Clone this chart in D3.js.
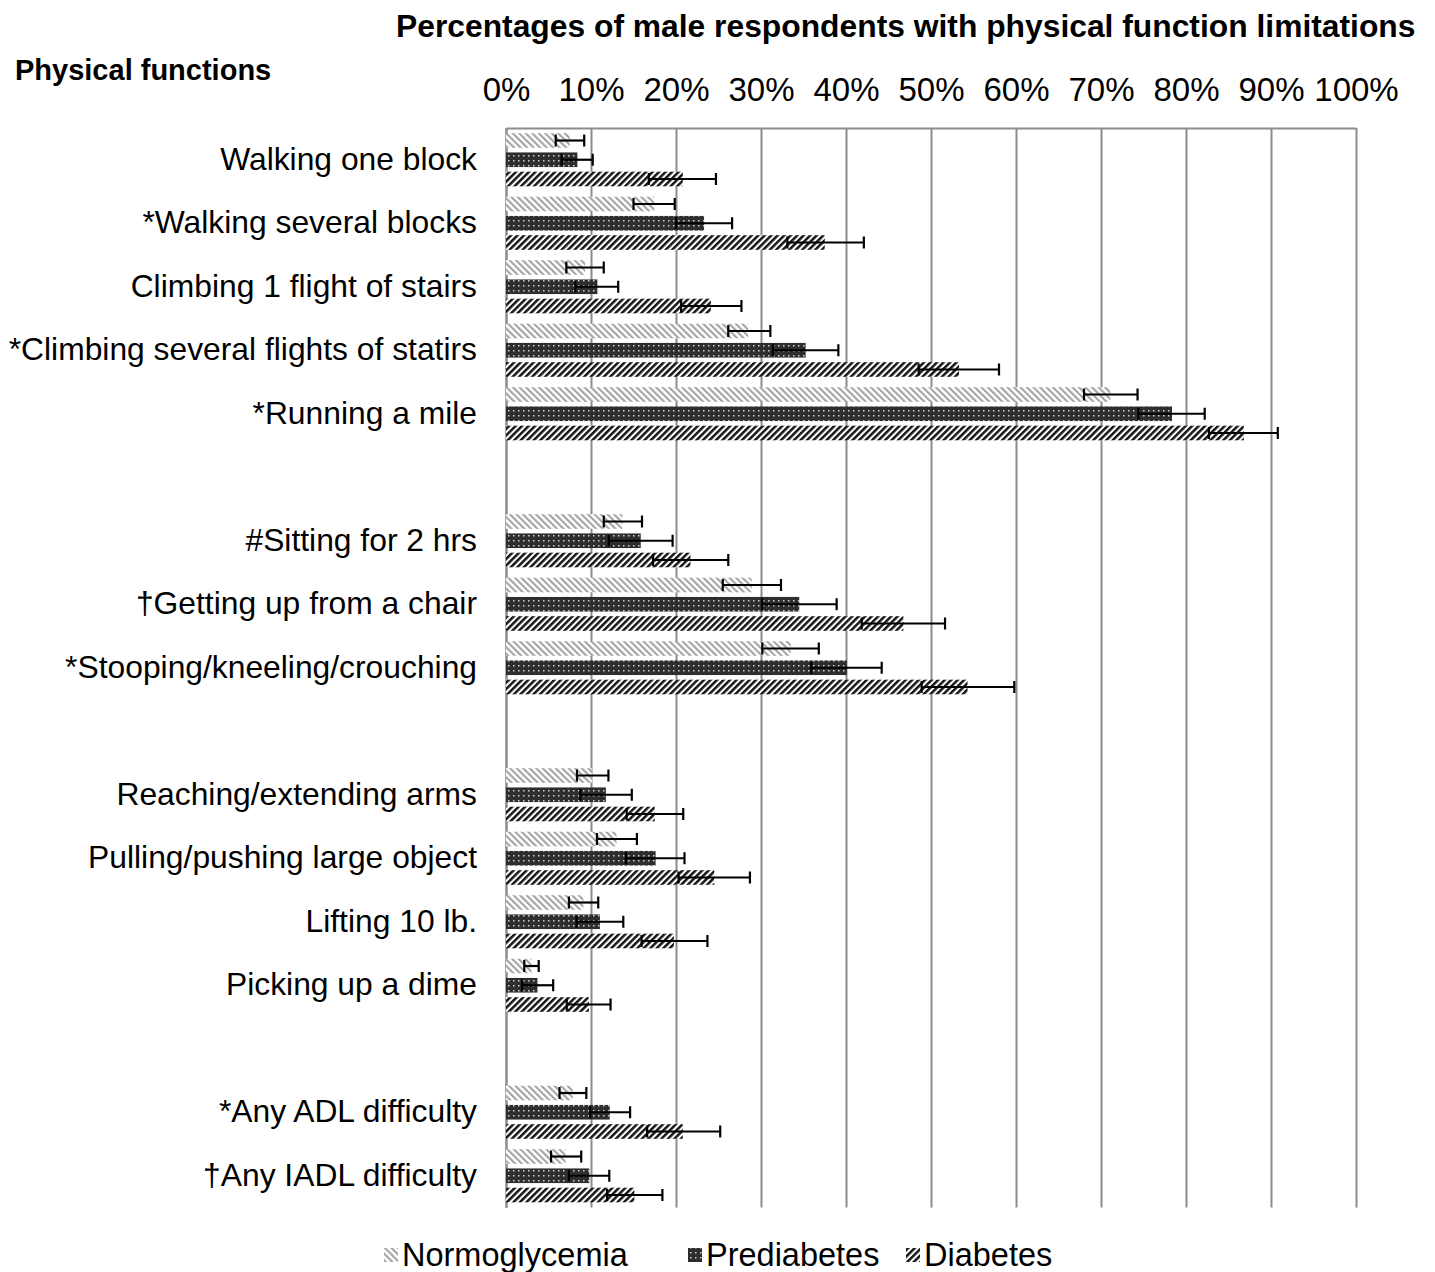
<!DOCTYPE html>
<html>
<head>
<meta charset="utf-8">
<script src="https://cdn.jsdelivr.net/npm/d3@7"></script>
<style>
    body { margin: 0; background: #fff; }
    svg { display: block; font-family: "Liberation Sans", Arial, sans-serif; }
</style>
</head>
<body>
<svg id="chart" width="1435" height="1272"></svg>
<script>
// categories, blank strings are the gaps between groups
const categories = [
    "Walking one block", "*Walking several blocks", "Climbing 1 flight of stairs",
    "*Climbing several flights of statirs", "*Running a mile", "",
    "#Sitting for 2 hrs", "\u2020Getting up from a chair", "*Stooping/kneeling/crouching", "",
    "Reaching/extending arms", "Pulling/pushing large object", "Lifting 10 lb.", "Picking up a dime", "",
    "*Any ADL difficulty", "\u2020Any IADL difficulty"
];
const seriesNames = ["Normoglycemia", "Prediabetes", "Diabetes"];

const normo     = [7.5, 17.45, 9.3, 28.5, 71.1, null, 13.7, 28.9, 33.5, null, 10.1, 13.0, 9.1, 3.0, null, 7.85, 7.0];
const normoLow  = [5.85, 15.0, 7.1, 26.15, 68.0, null, 11.5, 25.5, 30.15, null, 8.35, 10.7, 7.4, 2.15, null, 6.3, 5.3];
const normoHigh = [9.2, 19.85, 11.5, 31.1, 74.3, null, 16.0, 32.35, 36.8, null, 12.05, 15.4, 10.85, 3.85, null, 9.45, 8.85];

const prediab     = [8.4, 23.3, 10.75, 35.25, 78.35, null, 15.85, 34.5, 40.1, null, 11.75, 17.6, 11.05, 3.7, null, 12.2, 9.8];
const prediabLow  = [6.55, 20.0, 8.15, 31.4, 74.4, null, 12.1, 30.15, 35.9, null, 8.75, 14.1, 8.3, 1.9, null, 9.9, 7.4];
const prediabHigh = [10.2, 26.6, 13.2, 39.1, 82.2, null, 19.6, 38.9, 44.2, null, 14.8, 21.0, 13.8, 5.55, null, 14.6, 12.15];

const diab     = [20.8, 37.5, 24.1, 53.3, 86.8, null, 21.7, 46.75, 54.3, null, 17.5, 24.5, 19.75, 9.75, null, 20.8, 15.1];
const diabLow  = [16.8, 33.1, 20.6, 48.55, 82.7, null, 17.3, 41.85, 48.9, null, 14.2, 20.3, 15.95, 7.15, null, 16.6, 11.9];
const diabHigh = [24.7, 42.1, 27.7, 58.0, 90.8, null, 26.15, 51.65, 59.8, null, 20.85, 28.7, 23.7, 12.3, null, 25.2, 18.4];

const xTicks = [0, 10, 20, 30, 40, 50, 60, 70, 80, 90, 100];

const CONSTANT = {
    TR: "transform",
    TS: (x, y) => `translate(${[x, y]})`,
    GRID: "#8c8c8c",
    FONT: "'Liberation Sans', Arial, sans-serif"
};

const margin = { top: 128, left: 506, right: 79, bottom: 64.5 };
const width = 1435 - margin.left - margin.right;
const height = 1272 - margin.top - margin.bottom;

const svg = d3.select("#chart");

// fill patterns, one per series
const defs = svg.append("defs");

const pNormo = defs.append("pattern")
    .attr("id", "pat-normo")
    .attr("patternUnits", "userSpaceOnUse")
    .attr("width", 4.6).attr("height", 4.6)
    .attr("patternTransform", "rotate(-45)");
pNormo.append("rect").attr("width", 4.6).attr("height", 4.6).attr("fill", "#fff");
pNormo.append("rect").attr("width", 2.1).attr("height", 4.6).attr("fill", "#a3a3a3");

const pPre = defs.append("pattern")
    .attr("id", "pat-pre")
    .attr("patternUnits", "userSpaceOnUse")
    .attr("width", 5).attr("height", 5);
pPre.append("rect").attr("width", 5).attr("height", 5).attr("fill", "#2e2e2e");
pPre.append("rect").attr("x", 2).attr("y", 2).attr("width", 1.5).attr("height", 1.5).attr("fill", "#d0d0d0");

const pDiab = defs.append("pattern")
    .attr("id", "pat-diab")
    .attr("patternUnits", "userSpaceOnUse")
    .attr("width", 4.6).attr("height", 4.6)
    .attr("patternTransform", "rotate(45)");
pDiab.append("rect").attr("width", 4.6).attr("height", 4.6).attr("fill", "#fff");
pDiab.append("rect").attr("width", 2.5).attr("height", 4.6).attr("fill", "#151515");

const fills = ["url(#pat-normo)", "url(#pat-pre)", "url(#pat-diab)"];

const series = [
    { name: seriesNames[0], values: normo, low: normoLow, high: normoHigh },
    { name: seriesNames[1], values: prediab, low: prediabLow, high: prediabHigh },
    { name: seriesNames[2], values: diab, low: diabLow, high: diabHigh }
];

// scales
const x = d3.scaleLinear().domain([0, 100]).range([0, width]);
const y = d3.scaleBand().domain(d3.range(categories.length)).range([0, height]);
const y1 = d3.scaleBand().domain(d3.range(series.length))
    .range([5.2, y.bandwidth() - 5.2])
    .paddingInner(0.24);

const fig = svg.append("g").attr(CONSTANT.TR, CONSTANT.TS(margin.left, margin.top));

// top axis with gridlines
const xAxis = fig.append("g")
    .call(d3.axisTop(x)
        .tickValues(xTicks)
        .tickSize(-height)
        .tickSizeOuter(0)
        .tickPadding(27)
        .tickFormat(d => d + "%"));
xAxis.selectAll("line").attr("stroke", CONSTANT.GRID).attr("stroke-width", 2);
xAxis.select(".domain").attr("stroke", CONSTANT.GRID).attr("stroke-width", 2);
xAxis.selectAll("text")
    .attr("fill", "#000")
    .style("font-size", "33px")
    .style("font-family", CONSTANT.FONT);

// left category axis
const yAxis = fig.append("g")
    .call(d3.axisLeft(y)
        .tickSize(0)
        .tickPadding(29)
        .tickFormat(i => categories[i]));
yAxis.select(".domain").attr("stroke", CONSTANT.GRID).attr("stroke-width", 2);
yAxis.selectAll("text")
    .attr("fill", "#000")
    .style("font-size", "31.8px")
    .style("font-family", CONSTANT.FONT);

// bars
const rows = categories.map((c, i) => i).filter(i => normo[i] !== null);

series.forEach((s, k) => {
    const g = fig.append("g").attr("class", "subfig");
    g.selectAll("rect")
        .data(rows)
        .enter()
        .append("rect")
        .attr("x", x(0))
        .attr("y", i => y(i) + y1(k))
        .attr("width", i => x(s.values[i]))
        .attr("height", y1.bandwidth())
        .attr("fill", fills[k]);

    // error bars
    const eb = g.selectAll("g.err")
        .data(rows)
        .enter()
        .append("g")
        .attr("class", "err")
        .attr(CONSTANT.TR, i => CONSTANT.TS(0, y(i) + y1(k) + y1.bandwidth() / 2));
    eb.append("line")
        .attr("x1", i => x(s.low[i])).attr("x2", i => x(s.high[i]))
        .attr("y1", 0).attr("y2", 0);
    eb.append("line")
        .attr("x1", i => x(s.low[i])).attr("x2", i => x(s.low[i]))
        .attr("y1", -6).attr("y2", 6);
    eb.append("line")
        .attr("x1", i => x(s.high[i])).attr("x2", i => x(s.high[i]))
        .attr("y1", -6).attr("y2", 6);
    eb.selectAll("line").attr("stroke", "#000").attr("stroke-width", 2.2);
});

// titles
svg.append("text")
    .attr("x", 396)
    .attr("y", 37)
    .attr("font-weight", "bold")
    .style("font-size", "31.8px")
    .text("Percentages of male respondents with physical function limitations");

svg.append("text")
    .attr("x", 15)
    .attr("y", 80)
    .attr("font-weight", "bold")
    .style("font-size", "29px")
    .text("Physical functions");

// legend
const legendX = [384, 688, 906];
const legend = svg.append("g").attr(CONSTANT.TR, CONSTANT.TS(0, 1255));
series.forEach((s, k) => {
    const item = legend.append("g").attr(CONSTANT.TR, CONSTANT.TS(legendX[k], 0));
    item.append("rect")
        .attr("x", 0).attr("y", -7)
        .attr("width", 14).attr("height", 14)
        .attr("fill", fills[k]);
    item.append("text")
        .attr("x", 18)
        .attr("y", 0)
        .attr("dy", "0.35em")
        .style("font-size", "32.5px")
        .text(s.name);
});
</script>
</body>
</html>
